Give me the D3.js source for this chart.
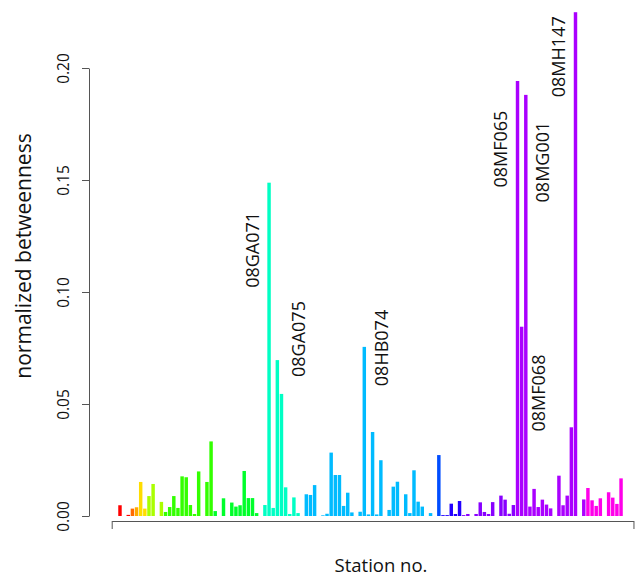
<!DOCTYPE html>
<html>
<head>
<meta charset="utf-8">
<script src="https://cdn.jsdelivr.net/npm/d3@7"></script>
<style>
  body { margin: 0; background: #fff; }
  text { font-family: "Open Sans", "Noto Sans", sans-serif; fill: #111; }
</style>
</head>
<body>
<div id="chart-area"></div>
<script>
//DATA--------------------------------------------------------------------------
// normalized betweenness per station, in station order
const betweenness = [
  0, 0, 0.0048, 0, 0.0005, 0.0033, 0.0039, 0.0152, 0.0033, 0.0089,
  0.0143, 0, 0.0063, 0.0018, 0.0040, 0.0089, 0.0036, 0.0177, 0.0173, 0.0049,
  0.0009, 0.0199, 0, 0.0152, 0.0333, 0.0022, 0, 0.0079, 0, 0.0060,
  0.0042, 0.0048, 0.0201, 0.0080, 0.0080, 0.0013, 0, 0.0049, 0.1488, 0.0036,
  0.0696, 0.0545, 0.0128, 0.0009, 0.0083, 0.0013, 0, 0.0097, 0.0094, 0.0138,
  0, 0.0003, 0.0010, 0.0283, 0.0183, 0.0183, 0.0045, 0.0104, 0.0016, 0,
  0.0019, 0.0755, 0.0007, 0.0375, 0.0007, 0.0249, 0, 0.0027, 0.0131, 0.0153,
  0, 0.0097, 0.0013, 0.0204, 0.0064, 0.0042, 0, 0.0013, 0, 0.0272,
  0.0004, 0.0004, 0.0055, 0.0009, 0.0067, 0.0004, 0.0009, 0, 0.0009, 0.0061,
  0.0018, 0.0009, 0.0062, 0, 0.0091, 0.0073, 0.0010, 0.0049, 0.1942, 0.0845,
  0.1880, 0.0042, 0.0121, 0.0040, 0.0073, 0.0051, 0.0034, 0, 0.0180, 0.0048,
  0.0091, 0.0396, 0.2249, 0, 0.0074, 0.0125, 0.0070, 0.0045, 0.0079, 0,
  0.0106, 0.0082, 0.0054, 0.0168, 0, 0, 0
]

// first station index of each sub-basin group, and the group hue
const groupStart = [0, 5, 6, 7, 9, 13, 25, 37, 47, 79, 80, 85, 98, 115]
const groupHue   = [0, 25, 40, 52, 80, 108, 130, 166, 196, 222, 248, 272, 280, 305]

// highlighted stations: bar index, side of the bar, label centre (y units)
const labelNames = ["08GA071", "08GA075", "08HB074", "08MF065", "08MF068", "08MG001", "08MH147"]
const labelBar   = [38, 41, 61, 98, 99, 100, 112]
const labelSide  = [-1, 1, 1, -1, 1, 1, -1]
const labelAt    = [0.1188, 0.079, 0.075, 0.1638, 0.0549, 0.158, 0.205]

const yTicks = [0, 0.05, 0.10, 0.15, 0.20]

//SVG---------------------------------------------------------------------------
const W = 635, H = 576
const svg = d3.select("#chart-area").append("svg")
  .attr("width", W)
  .attr("height", H)
svg.append("rect").attr("width", W).attr("height", H).attr("fill", "#fff")

//SCALES------------------------------------------------------------------------
const n = betweenness.length
const step = 4.141
const first = 111.7            // centre of first station slot
const xScale = d3.scaleBand()
  .domain(d3.range(n))
  .range([first - step / 2, first - step / 2 + n * step])
  .paddingInner(1 / 6)
  .paddingOuter(1 / 12)
const xMid = i => xScale(i) + xScale.bandwidth() / 2

const yScale = d3.scaleLinear()
  .domain([0, 0.2])
  .range([516, 68])

const groupOf = i => d3.bisectRight(groupStart, i) - 1
const colour = i => d3.hsl(groupHue[groupOf(i)], 1, 0.5).formatHex()

//BARS--------------------------------------------------------------------------
svg.append("g").selectAll("rect")
  .data(betweenness)
  .enter().append("rect")
    .attr("x", (d, i) => xScale(i))
    .attr("y", d => yScale(d))
    .attr("width", xScale.bandwidth())
    .attr("height", d => yScale(0) - yScale(d))
    .attr("fill", (d, i) => colour(i))

//AXES--------------------------------------------------------------------------
const yAxis = d3.axisLeft(yScale)
  .tickValues(yTicks)
  .tickFormat(d3.format(".2f"))
  .tickSize(7)
  .tickSizeOuter(0)
const gY = svg.append("g")
  .attr("transform", "translate(89,0)")
  .call(yAxis)
gY.select(".domain").attr("stroke", "#555")
gY.selectAll(".tick line").attr("stroke", "#555")
gY.selectAll(".tick text")
  .attr("x", 0).attr("dy", 0)
  .attr("transform", "translate(-20,0) rotate(-90)")
  .attr("text-anchor", "middle")
  .style("font-size", "15.5px")
  .style("font-family", "'Open Sans', sans-serif")
  .attr("fill", "#111")

const xLine = d3.scaleLinear().domain([0, n - 1]).range([xMid(0), xMid(n - 1)])
const xAxis = d3.axisBottom(xLine)
  .tickValues([0, n - 1])
  .tickFormat("")
  .tickSize(8)
  .tickSizeOuter(0)
const gX = svg.append("g")
  .attr("transform", "translate(0,521)")
  .call(xAxis)
gX.selectAll(".domain, .tick line").attr("stroke", "#555")

//TITLES------------------------------------------------------------------------
svg.append("text")
  .attr("transform", "translate(31,256) rotate(-90)")
  .attr("text-anchor", "middle")
  .style("font-size", "21px")
  .text("normalized betweenness")

svg.append("text")
  .attr("x", 381).attr("y", 572)
  .attr("text-anchor", "middle")
  .style("font-size", "18.5px")
  .text("Station no.")

//STATION LABELS----------------------------------------------------------------
svg.append("g").selectAll("text")
  .data(labelNames)
  .enter().append("text")
    .attr("transform", (d, i) =>
      `translate(${xMid(labelBar[i]) + labelSide[i] * 17},${yScale(labelAt[i])}) rotate(-90)`)
    .attr("dy", "0.36em")
    .attr("text-anchor", "middle")
    .style("font-size", "18px")
    .text(d => d)
</script>
</body>
</html>
